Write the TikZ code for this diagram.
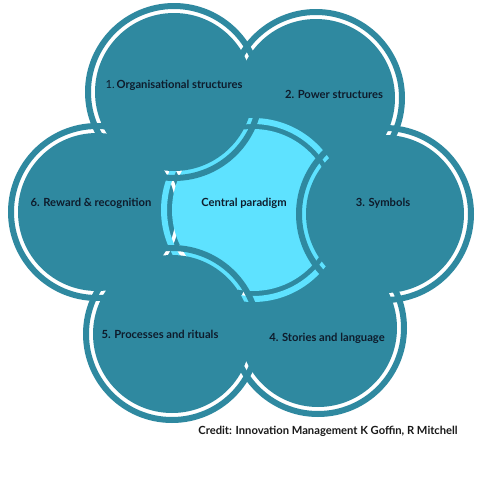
\documentclass[tikz,border=0pt]{standalone}
\usepackage{fontspec}
\setmainfont{Lato}
\definecolor{tealc}{RGB}{47,137,160}
\definecolor{cyanc}{RGB}{94,226,255}
\definecolor{labelc}{RGB}{14,28,44}
\begin{document}
\begin{tikzpicture}[x=1pt,y=-1pt,
  ringdisc/.style={fill=#1, even odd rule},
  lbl/.style={text=labelc, font=\fontsize{11.2}{13}\selectfont\bfseries, inner sep=0pt, anchor=center}]
\useasboundingbox[fill=white] (0,0) rectangle (485,485);
\coordinate (c1) at (174,92);
\coordinate (c2) at (316,98);
\coordinate (c3) at (385,214);
\coordinate (c4) at (318,328);
\coordinate (c5) at (172,334);
\coordinate (c6) at (97,212);
\coordinate (cc) at (253,210);
% lower circles
\foreach \c in {c2,c4,c6}{
  \fill[ringdisc=tealc] (\c) circle[radius=89pt] (\c) circle[radius=83pt] (\c) circle[radius=79pt];
}
% central circle
\fill[ringdisc=cyanc] (cc) circle[radius=92pt] (cc) circle[radius=86pt] (cc) circle[radius=81pt];
% upper circles
\foreach \c in {c1,c3,c5}{
  \fill[ringdisc=tealc] (\c) circle[radius=89pt] (\c) circle[radius=83pt] (\c) circle[radius=79pt];
}
\node[lbl] (l1) at (174,85) {{\mdseries 1.}\,Organisational structures};
\node[lbl] (l2) at (334,94) {2. Power structures};
\node[lbl] (l3) at (383,203) {3. Symbols};
\node[lbl] (l4) at (327,338) {4. Stories and language};
\node[lbl] (l5) at (160,334) {5. Processes and rituals};
\node[lbl] (l6) at (91,203) {6. Reward \& recognition};
\node[lbl] (lc) at (244,203) {Central paradigm};
\node[lbl, text=black!90] (cr) at (328,431) {Credit: Innovation Management K Goffin, R Mitchell};
\end{tikzpicture}
\end{document}
